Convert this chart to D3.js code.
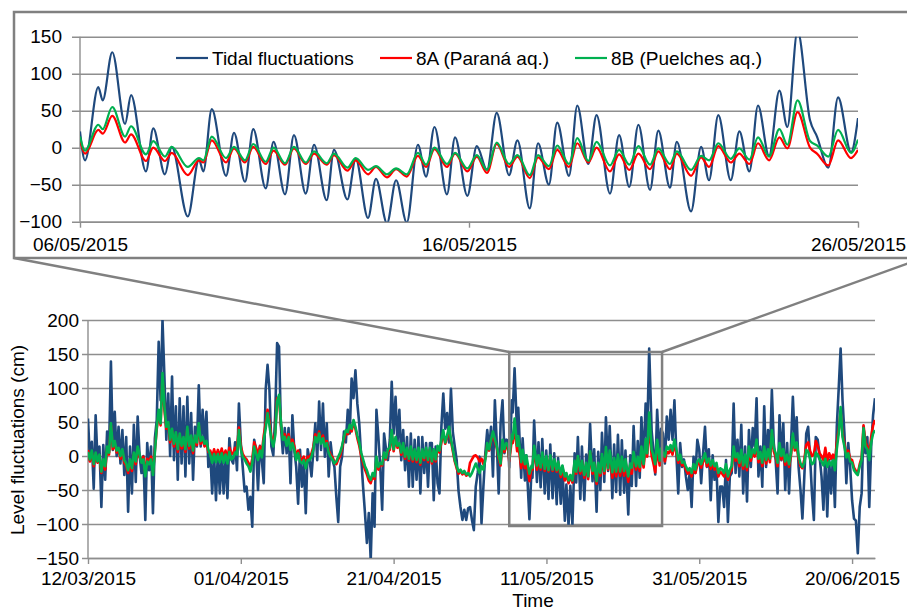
<!DOCTYPE html>
<html>
<head>
<meta charset="utf-8">
<title>Level fluctuations</title>
<style>
  body { margin: 0; background: #fff; }
  svg text { font-family: "Liberation Sans", Arial, sans-serif; }
</style>
</head>
<body>
<svg id="svg" width="907" height="611"></svg>
<script src="https://d3js.org/d3.v7.min.js"></script>
<script>
// names and colours of the three series
const seriesNames = ['Tidal fluctuations', '8A (Paraná aq.)', '8B (Puelches aq.)']
const seriesColors = ['#1f497d', '#ff0000', '#00b050']

// axis ticks
const mainXTicks = ['12/03/2015', '01/04/2015', '21/04/2015', '11/05/2015', '31/05/2015', '20/06/2015']
const mainYTicks = [200, 150, 100, 50, 0, -50, -100, -150]
const insetXTicks = ['06/05/2015', '16/05/2015', '26/05/2015']
const insetYTicks = [150, 100, 50, 0, -50, -100]

// 6-hourly readings, 12/03/2015 00:00 -> 05/05/2015 18:00
const tideEarly = [
  55,-6,21,-48, 60,-8,14,-75, 16,-35,36,6, 139,9,65,0, 43,-11,38,-28,
  28,-82,14,-55, 46,-38,58,1, -25,0,-94,19, -21,14,-84,26, 53,168,82,200,
  117,24,92,0, 117,-6,73,-35, 85,-11,73,-30, 87,-11,63,-35, 43,14,104,14,
  68,19,65,-16, 5,-55,3,-65, 6,-55,4,-55, 2,-62,26,-5, -11,20,-21,77,
  19,-16,-52,-45, -79,-60,-104,24, 9,-50,15,-6, -40,97,134,97, 14,1,60,166,
  161,43,4,41, 4,41,-40,60, 9,-16,-70,9, -45,-11,-84,10, -6,-30,9,48,
  -6,80,9,77, -1,48,-30,20, -6,-16,-60,-97, -16,-1,36,20, 68,33,114,85,
  126,77,48,-1, -45,-84,-128,-84, -153,-55,-104,68, 28,-16,-79,33, 10,-6,24,109,
  33,87,19,68, -6,38,-21,28, -45,33,-45,24, -35,28,-55,28, -25,19,-45,19,
  19,-65,14,-40, -55,43,92,40, 63,20,99,35, 14,-6,-52,-75, -94,-79,-94,-77,
  -75,-94,-109,-45, -25,-1,-99,-45, 4,38,9,43, -30,82,19,-55, 48,82,4,24
]
const paranaEarly = [
  9,-8,5,-15, 3,-10,0,-25, -8,-20,10,2, 45,10,18,5, 9,-4,7,-10,
  -14,-25,-9,-22, 2,-12,10,-2, -5,-1,-26,-4, -8,-1,-24,8, 40,62,45,115,
  68,40,47,20, 37,14,32,6, 30,11,25,6, 40,11,27,4, 27,16,45,18,
  25,14,19,6, 8,-2,10,-1, 9,-1,11,-2, 8,-3,12,3, 4,12,10,42,
  15,3,-2,-5, -10,-18,-4,20, 12,2,14,5, 30,48,68,50, 28,18,34,85,
  86,46,28,32, 20,32,14,24, 15,0,8,-3, -6,-1,-13,-1, -2,4,14,32,
  24,36,22,30, 18,22,8,2, -2,-8,-12,-5, 0,12,25,34, 32,42,36,50,
  40,26,15,0, -10,-20,-27,-36, -40,-30,-34,-5, -20,-12,-14,2, -5,7,9,34,
  7,25,12,16, 2,16,-4,9, -7,11,-8,7, -9,9,-13,7, -6,9,-9,9,
  -11,7,-8,12, 5,20,34,18, 27,40,22,7, -8,-18,-26,-22, -27,-24,-29,-27,
  -10,-5,0,1, -2,-8,-4,-12, -3,17,8,22, 33,22,12,-3, -14,20,6,15
]
const puelchesEarly = [
  6,-5,8,-12, 5,-8,2,-23, -5,-15,14,5, 48,14,22,8, 12,0,10,-6,
  -11,-21,-5,-18, 5,-8,14,2, -10,-5,-30,-8, -12,-5,-28,5, 43,68,48,122,
  73,43,50,24, 40,18,35,10, 33,15,28,10, 43,15,30,8, 30,20,48,22,
  28,18,22,9, 2,-10,3,-9, 3,-9,4,-10, 2,-11,6,-5, -3,5,2,38,
  10,-1,-5,-11, -15,-23,-10,14, 4,-6,8,-2, 24,40,63,45, 24,14,30,80,
  90,50,24,28, 15,28,9,19, 10,-6,4,-8, -11,-6,-18,-6, -6,-1,10,28,
  20,33,18,26, 14,19,5,-1, -5,-11,-8,-1, 5,15,28,38, 35,46,40,53,
  43,30,20,5, -5,-15,-21,-30, -35,-25,-30,-1, -16,-10,-12,5, -3,10,12,38,
  10,28,15,19, 5,19,-1,12, -4,14,-5,10, -6,12,-10,10, -3,12,-6,12,
  -8,10,-5,15, 8,24,38,20, 30,43,25,10, -6,-15,-23,-20, -25,-22,-27,-25,
  -30,-25,-18,-11, -18,-25,-15,-20, -5,19,10,24, 36,25,14,0, -11,24,10,19
]

// zoomed period 06/05 -> 26/05: turning points, hours after 06/05/2015 00:00
const insetHours = [
  0,3.1,11.3,14.0,19.9,27.8,31.5,40.7,45.2,52.4,
  56.6,66.5,73.4,76.1,81.3,90.1,95.0,101.8,106.9,114.6,
  119.4,126.5,132.0,139.3,144.4,152.2,156.7,165.0,170.1,177.7,
  182.6,189.4,195.0,201.6,208.5,213.5,218.7,226.4,231.4,239.0,
  244.8,251.1,257.1,264.7,269.9,277.5,282.6,289.3,294.4,301.7,
  306.8,313.6,318.7,327.0,332.6,338.9,344.5,351.7,356.8,364.0,
  368.2,377.0,383.2,388.1,393.8,401.5,406.8,413.0,418.3,425.1,
  431.5,436.4,442.7,450.4,454.7,461.7,467.7,475.7,480
]
const tideInset = [
  22,-17,82,64,129,32,71,-32,26,-36,
  1,-93,-16,-32,52,-38,20,-46,25,-55,
  8,-63,17,-62,4,-71,-3,-70,-15,-95,
  -42,-102,-44,-101,4,-39,28,-63,14,-65,
  2,-30,47,-37,10,-82,6,-50,34,-38,
  57,-22,44,-62,17,-53,31,-57,23,-54,
  8,-86,1,-44,44,-44,22,-32,57,-11,
  77,28,158,37,15,-27,68,-6,40
]
const paranaInset = [
  10,-8,24,19,43,7,18,-18,0,-18,
  -7,-37,-17,-20,10,-20,-1,-20,1,-22,
  -4,-23,-1,-22,-8,-23,-10,-31,-17,-36,
  -26,-40,-29,-39,-11,-26,-2,-26,-8,-32,
  -12,-34,5,-26,-12,-41,-13,-29,-3,-26,
  6,-20,0,-32,-9,-30,-8,-29,-5,-29,
  -8,-38,-13,-26,2,-20,-8,-22,6,-17,
  14,-1,48,0,-8,-24,10,-14,-3
]
const puelchesInset = [
  15,-4,31,25,55,15,29,-9,9,-12,
  1,-26,-14,-17,15,-14,1,-17,5,-19,
  0,-21,1,-20,-5,-21,-8,-27,-14,-30,
  -25,-36,-28,-36,-7,-23,0,-22,-7,-28,
  -10,-30,7,-22,-10,-37,-10,-25,3,-22,
  13,-18,8,-24,-3,-23,2,-23,-1,-22,
  -5,-30,-11,-17,6,-15,-1,-16,14,-12,
  25,4,64,9,3,-12,24,-7,11
]

// 6-hourly readings, 26/05/2015 06:00 -> 23/06/2015 00:00
const tideLate = [
  33,-11,58,
  24,68,24,82, 4,-55,19,-16, -5,-30,-50,-25, -75,-1,-25,24, 9,-40,4,43,
  -16,10,-65,1, -35,-16,-97,-45, -45,-75,-6,-97, -30,-25,77,-25, 24,-30,46,-55,
  14,-67,38,-16, 41,14,85,-30, 14,-45,73,-16, 38,-1,97,19, -6,-55,60,-6,
  48,-50,19,-55, 14,87,19,57, -16,-50,-92,-30, 33,43,-1,-55, -94,28,24,-1,
  -30,-79,4,-89, -6,-55,-1,-75, 43,99,158,82, 33,-40,19,-16, -65,-92,-95,-143,
  -75,-55,43,4, 28,-75,14,60,
  85
]
const paranaLate = [
  -2,-8,6,
  4,10,2,18, 5,-10,-2,-14, -12,-20,-26,-23, -30,-17,-25,-13, -10,-17,-9,0,
  -15,-9,-19,-11, -20,-15,-30,-23, -26,-30,-17,-35, -25,-20,9,-7, -1,-15,4,-19,
  -3,-21,9,-7, 5,-1,19,-9, 1,-15,9,-11, 5,-9,33,7, -1,-15,14,-5,
  5,-13,-2,-16, 0,28,8,15, -4,-15,-18,-5, 16,20,8,0, 2,22,15,4,
  0,-6,12,-8, 4,-4,2,-10, 20,38,65,32, 18,2,8,-4, -6,-17,-22,-25,
  -12,-2,45,20, 14,0,28,45,
  53
]
const puelchesLate = [
  5,-1,14,
  10,16,8,24, 10,-6,2,-10, -8,-15,-21,-18, -25,-12,-20,-8, -5,-12,-4,4,
  -10,-4,-14,-6, -15,-10,-25,-18, -20,-25,-12,-30, -20,-15,14,-2, 4,-10,9,-14,
  2,-16,14,-2, 10,4,24,-4, 6,-10,14,-6, 10,-4,38,12, 4,-10,19,0,
  10,-8,2,-12, 4,33,12,20, 0,-11,-16,-10, 9,6,-4,-12, -10,5,2,-5,
  -8,-14,-4,-16, -8,-14,-6,-21, 10,33,72,28, 14,-2,4,-8, -10,-21,-25,-28,
  -15,-6,41,14, 10,-6,20,33,
  38
]

const parse = d3.utcParse('%d/%m/%Y')
const fmt = d3.utcFormat('%d/%m/%Y')
const HOUR = 36e5
const STEP = 6 * HOUR

const mainStart = parse('12/03/2015')
const mainEnd = parse('23/06/2015')
const insetStart = parse(insetXTicks[0])
const insetEnd = parse(insetXTicks[2])
const lateStart = new Date(+insetEnd + STEP)

// put the three pieces of a record together as {t, v}
function inset(values) {
  return values.map((v, i) => ({ t: new Date(+insetStart + insetHours[i] * HOUR), v }))
}
function record(early, mid, late) {
  return [
    ...early.map((v, i) => ({ t: new Date(+mainStart + i * STEP), v })),
    ...inset(mid),
    ...late.map((v, i) => ({ t: new Date(+lateStart + i * STEP), v }))
  ]
}

const mainData = [
  record(tideEarly, tideInset, tideLate),
  record(paranaEarly, paranaInset, paranaLate),
  record(puelchesEarly, puelchesInset, puelchesLate)
]
const insetData = [inset(tideInset), inset(paranaInset), inset(puelchesInset)]

const gridColor = '#8e8e8e'
const frameColor = '#808080'
const fontSize = 19
const fontFamily = '"Liberation Sans", Arial, sans-serif'

const svg = d3.select('#svg')

// draws grid + y labels, x axis with ticks
function drawAxes(g, x, y, xTicks, yTicks, o) {
  const [x0, x1] = x.range()
  const [yb, yt] = y.range()

  g.append('g')
    .attr('transform', `translate(${x0},0)`)
    .call(d3.axisLeft(y).tickValues(yTicks).tickSize(-(x1 - x0)).tickPadding(o.yTick + o.yPad))
    .attr('font-size', fontSize)
    .attr('font-family', fontFamily)
    .call(s => s.select('.domain').remove())
    .call(s => s.selectAll('.tick line')
      .attr('x1', -o.yTick).attr('stroke', gridColor).attr('stroke-width', 1.4))
    .call(s => s.selectAll('.tick text').attr('fill', '#000'))

  g.append('line')
    .attr('x1', x0).attr('x2', x0).attr('y1', yt).attr('y2', yb)
    .attr('stroke', gridColor).attr('stroke-width', 1.4)

  g.append('g')
    .attr('transform', `translate(0,${yb})`)
    .call(d3.axisBottom(x).tickValues(xTicks.map(parse)).tickFormat(fmt)
      .tickSizeInner(6).tickSizeOuter(0).tickPadding(o.xPad))
    .attr('font-size', fontSize)
    .attr('font-family', fontFamily)
    .call(s => s.select('.domain').attr('stroke', gridColor).attr('stroke-width', 1.4))
    .call(s => s.selectAll('.tick line').attr('stroke', gridColor).attr('stroke-width', 1.4))
    .call(s => s.selectAll('.tick text').attr('fill', '#000'))
}

function drawLines(g, data, x, y, clipId, curve, widths) {
  const [x0, x1] = x.range()
  const [yb, yt] = y.range()
  g.append('clipPath').attr('id', clipId)
    .append('rect').attr('x', x0).attr('y', yt).attr('width', x1 - x0).attr('height', yb - yt)

  const line = d3.line().x(d => x(d.t)).y(d => y(d.v)).curve(curve)
  g.append('g').attr('clip-path', `url(#${clipId})`)
    .selectAll('path')
    .data(data)
    .join('path')
    .attr('d', line)
    .attr('fill', 'none')
    .attr('stroke', (d, i) => seriesColors[i])
    .attr('stroke-width', (d, i) => widths[i])
    .attr('stroke-linejoin', 'round')
}

// ---------- main chart ----------
const x = d3.scaleUtc().domain([mainStart, mainEnd]).range([88, 875])
const y = d3.scaleLinear().domain([-150, 200]).range([558, 320])

const main = svg.append('g')
drawAxes(main, x, y, mainXTicks, mainYTicks, { yTick: 6, yPad: 3, xPad: 8 })
drawLines(main, mainData, x, y, 'clipMain', d3.curveLinear, [2.6, 2.6, 2.6])

main.append('text')
  .attr('transform', 'translate(24,440) rotate(-90)')
  .attr('text-anchor', 'middle')
  .attr('font-size', fontSize)
  .text('Level fluctuations (cm)')

main.append('text')
  .attr('x', 533).attr('y', 607)
  .attr('text-anchor', 'middle')
  .attr('font-size', fontSize)
  .text('Time')

// box marking the zoomed window
const bx0 = x(insetStart) + 1
const bx1 = x(insetEnd) + 1
const by0 = y(150) - 2
const by1 = y(-100) + 2
main.append('rect')
  .attr('x', bx0).attr('y', by0).attr('width', bx1 - bx0).attr('height', by1 - by0)
  .attr('fill', 'none').attr('stroke', frameColor).attr('stroke-width', 2.5)

// ---------- inset frame and connectors ----------
const frame = { left: 14, top: 12, right: 923, bottom: 258 }
svg.append('rect')
  .attr('x', frame.left).attr('y', frame.top)
  .attr('width', frame.right - frame.left).attr('height', frame.bottom - frame.top)
  .attr('fill', '#fff').attr('stroke', frameColor).attr('stroke-width', 2.5)

svg.append('line')
  .attr('x1', bx0).attr('y1', by0).attr('x2', frame.left).attr('y2', frame.bottom)
  .attr('stroke', frameColor).attr('stroke-width', 2.5)
svg.append('line')
  .attr('x1', bx1).attr('y1', by0).attr('x2', frame.right).attr('y2', frame.bottom)
  .attr('stroke', frameColor).attr('stroke-width', 2.5)

// ---------- inset chart ----------
const xi = d3.scaleUtc().domain([insetStart, insetEnd]).range([80, 858])
const yi = d3.scaleLinear().domain([-100, 150]).range([221.7, 36.7])

const ins = svg.append('g')
drawAxes(ins, xi, yi, insetXTicks, insetYTicks, { yTick: 8, yPad: 10, xPad: 10 })
drawLines(ins, insetData, xi, yi, 'clipInset', d3.curveMonotoneX, [2.2, 2.2, 2.2])

// legend
const legendX = [176, 380, 575]
const legend = ins.append('g')
  .selectAll('g')
  .data(seriesNames)
  .join('g')
  .attr('transform', (d, i) => `translate(${legendX[i]},58)`)
legend.append('line')
  .attr('x1', 0).attr('x2', 32)
  .attr('stroke', (d, i) => seriesColors[i]).attr('stroke-width', 2.2)
legend.append('text')
  .attr('x', 36).attr('dy', '0.35em')
  .attr('font-size', fontSize)
  .text(d => d)
</script>
</body>
</html>
